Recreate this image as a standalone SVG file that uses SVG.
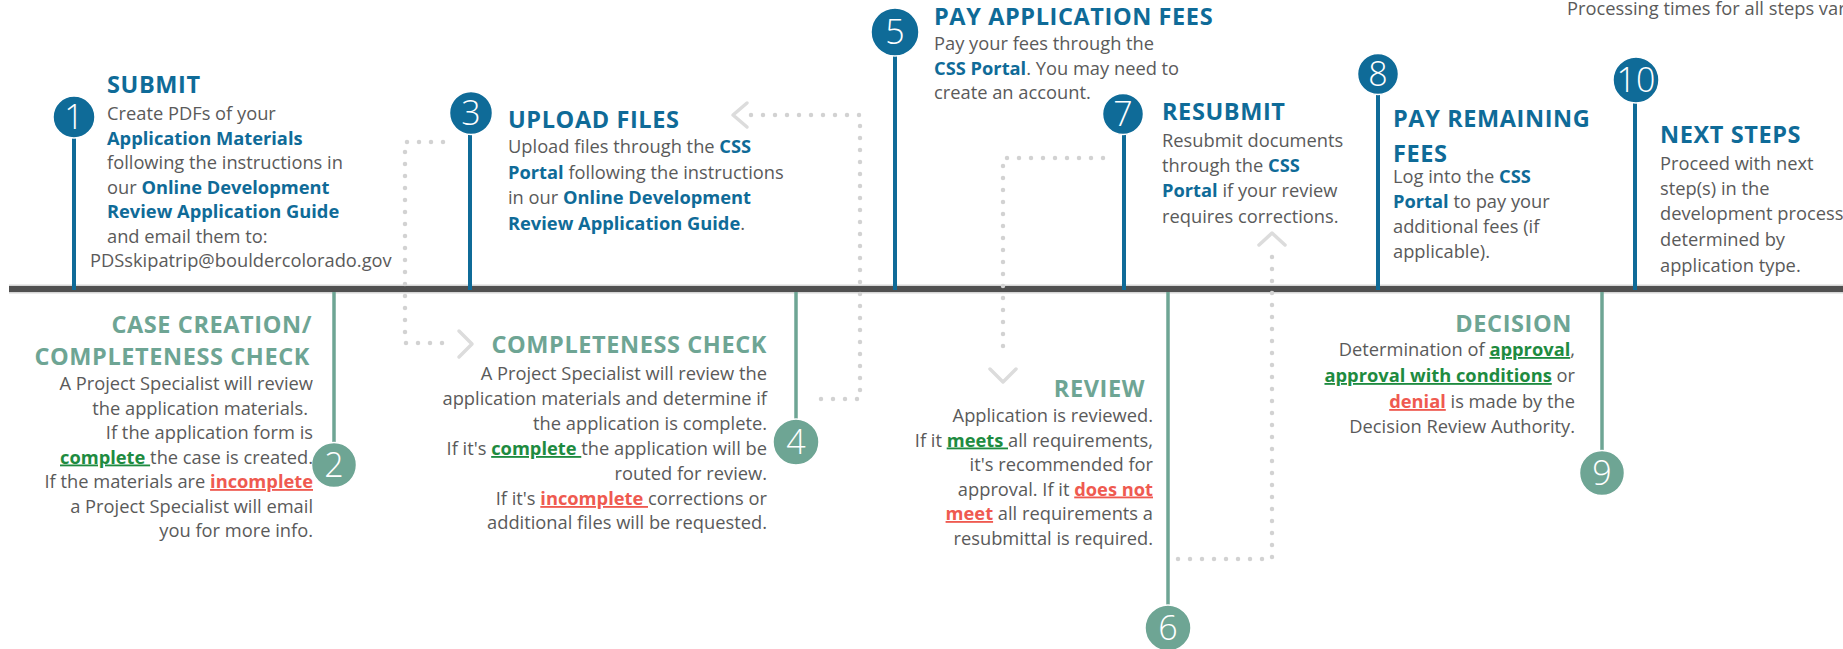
<svg xmlns="http://www.w3.org/2000/svg" width="1843" height="649" viewBox="0 0 1843 649">
<style>
text{font-family:"Open Sans","Noto Sans","Liberation Sans",sans-serif;}
.body{font-size:18.3px;fill:#5a5a5a;}
.r{text-anchor:end;}
.tb{font-size:23.5px;font-weight:700;fill:#0f6b98;letter-spacing:0.6px;}
.tg{font-size:23.5px;font-weight:700;fill:#6ea594;letter-spacing:0.6px;}
.b{font-weight:700;fill:#0f6b98;}
.g{font-weight:700;fill:#1e8b40;text-decoration:underline;}
.rd{font-weight:700;fill:#ef5a50;text-decoration:underline;}
.cb{fill:#0f6b98;stroke:#fff;stroke-width:1.5;}
.cg{fill:#6ea594;stroke:#fff;stroke-width:1.5;}
.sb{stroke:#0f6b98;stroke-width:4;}
.sg{stroke:#6ea594;stroke-width:3.5;}
.num{font-size:34px;font-weight:300;fill:#fff;text-anchor:middle;}
.dot{fill:none;stroke:#d2d2d2;stroke-width:4.5;stroke-linecap:round;stroke-dasharray:0 12;}
.chev{fill:none;stroke:#dcdcdc;stroke-width:3.5;stroke-linecap:round;stroke-linejoin:round;}
</style>
<rect width="1843" height="649" fill="#fff"/>
<rect x="9" y="284.5" width="1834" height="9" fill="#d6d6d6"/>
<rect x="9" y="286" width="1834" height="6" fill="#505050"/>
<text class="body" x="1567" y="15">Processing times for all steps vary</text>
<g id="connectors">
<path class="dot" d="M443,142 H405 V343 H450"/>
<polyline class="chev" points="459,331 472,344 459,357"/>
<path class="dot" d="M751,115 H860 V399 H819"/>
<polyline class="chev" points="747,103 733,115 747,127"/>
<path class="dot" d="M1103,158 H1003 V358"/>
<polyline class="chev" points="990,369 1003,382 1016,369"/>
<path class="dot" d="M1178,559 H1272 V247"/>
<polyline class="chev" points="1259,245 1272,233 1285,245"/>
</g>
<g id="step1">
<line class="sb" x1="74" y1="117" x2="74" y2="290"/>
<circle class="cb" cx="74" cy="117" r="21"/>
<text class="num" x="74" y="129">1</text>
<text class="tb" x="107" y="93">SUBMIT</text>
<text class="body" x="107" y="120">Create PDFs of your</text>
<text class="body" x="107" y="144.5"><tspan class="b">Application Materials</tspan></text>
<text class="body" x="107" y="169">following the instructions in</text>
<text class="body" x="107" y="193.5">our <tspan class="b">Online Development</tspan></text>
<text class="body" x="107" y="218"><tspan class="b">Review Application Guide</tspan></text>
<text class="body" x="107" y="242.5">and email them to:</text>
<text class="body" x="90" y="267">PDSskipatrip@bouldercolorado.gov</text>
</g>
<g id="step2">
<line class="sg" x1="334" y1="292" x2="334" y2="465"/>
<circle class="cg" cx="334" cy="465" r="22.5"/>
<text class="num" x="334" y="477">2</text>
<text class="tg r" x="312" y="333">CASE CREATION/</text>
<text class="tg r" x="310" y="365">COMPLETENESS CHECK</text>
<text class="body r" x="313" y="390">A Project Specialist will review</text>
<text class="body r" x="308" y="414.5">the application materials.</text>
<text class="body r" x="313" y="439">If the application form is</text>
<text class="body r" x="313" y="463.5"><tspan class="g">complete </tspan>the case is created.</text>
<text class="body r" x="313" y="488">If the materials are <tspan class="rd">incomplete</tspan></text>
<text class="body r" x="313" y="512.5">a Project Specialist will email</text>
<text class="body r" x="313" y="537">you for more info.</text>
</g>
<g id="step3">
<line class="sb" x1="470" y1="113" x2="470" y2="290"/>
<circle class="cb" cx="471" cy="113" r="21.5"/>
<text class="num" x="471" y="125">3</text>
<text class="tb" x="508" y="128">UPLOAD FILES</text>
<text class="body" x="508" y="153">Upload files through the <tspan class="b">CSS</tspan></text>
<text class="body" x="508" y="178.5"><tspan class="b">Portal</tspan> following the instructions</text>
<text class="body" x="508" y="204">in our <tspan class="b">Online Development</tspan></text>
<text class="body" x="508" y="229.5"><tspan class="b">Review Application Guide</tspan>.</text>
</g>
<g id="step4">
<line class="sg" x1="796" y1="292" x2="796" y2="442"/>
<circle class="cg" cx="796" cy="442" r="23"/>
<text class="num" x="796" y="454">4</text>
<text class="tg r" x="767" y="353">COMPLETENESS CHECK</text>
<text class="body r" x="767" y="380">A Project Specialist will review the</text>
<text class="body r" x="767" y="405">application materials and determine if</text>
<text class="body r" x="767" y="430">the application is complete.</text>
<text class="body r" x="767" y="455">If it's <tspan class="g">complete </tspan>the application will be</text>
<text class="body r" x="767" y="480">routed for review.</text>
<text class="body r" x="767" y="505">If it's <tspan class="rd">incomplete </tspan>corrections or</text>
<text class="body r" x="767" y="529">additional files will be requested.</text>
</g>
<g id="step5">
<line class="sb" x1="895" y1="32" x2="895" y2="290"/>
<circle class="cb" cx="895" cy="32" r="24"/>
<text class="num" x="895" y="44">5</text>
<text class="tb" x="934" y="25">PAY APPLICATION FEES</text>
<text class="body" x="934" y="50">Pay your fees through the</text>
<text class="body" x="934" y="75"><tspan class="b">CSS Portal</tspan>. You may need to</text>
<text class="body" x="934" y="99">create an account.</text>
</g>
<g id="step6">
<line class="sg" x1="1168" y1="292" x2="1168" y2="628"/>
<circle class="cg" cx="1168" cy="628" r="23"/>
<text class="num" x="1168" y="640">6</text>
<text class="tg r" x="1145" y="397">REVIEW</text>
<text class="body r" x="1153" y="422">Application is reviewed.</text>
<text class="body r" x="1153" y="446.5">If it <tspan class="g">meets </tspan>all requirements,</text>
<text class="body r" x="1153" y="471">it's recommended for</text>
<text class="body r" x="1153" y="495.5">approval. If it <tspan class="rd">does not</tspan></text>
<text class="body r" x="1153" y="520"><tspan class="rd">meet</tspan> all requirements a</text>
<text class="body r" x="1153" y="544.5">resubmittal is required.</text>
</g>
<g id="step7">
<line class="sb" x1="1124" y1="114" x2="1124" y2="290"/>
<circle class="cb" cx="1123" cy="114" r="20.5"/>
<text class="num" x="1123" y="126">7</text>
<text class="tb" x="1162" y="120">RESUBMIT</text>
<text class="body" x="1162" y="147">Resubmit documents</text>
<text class="body" x="1162" y="172">through the <tspan class="b">CSS</tspan></text>
<text class="body" x="1162" y="197"><tspan class="b">Portal</tspan> if your review</text>
<text class="body" x="1162" y="223">requires corrections.</text>
</g>
<g id="step8">
<line class="sb" x1="1378" y1="74" x2="1378" y2="290"/>
<circle class="cb" cx="1378" cy="74" r="20.5"/>
<text class="num" x="1378" y="86">8</text>
<text class="tb" x="1393" y="127">PAY REMAINING</text>
<text class="tb" x="1393" y="162">FEES</text>
<text class="body" x="1393" y="183">Log into the <tspan class="b">CSS</tspan></text>
<text class="body" x="1393" y="208"><tspan class="b">Portal</tspan> to pay your</text>
<text class="body" x="1393" y="233">additional fees (if</text>
<text class="body" x="1393" y="258">applicable).</text>
</g>
<g id="step9">
<line class="sg" x1="1602" y1="292" x2="1602" y2="473"/>
<circle class="cg" cx="1602" cy="473" r="22.5"/>
<text class="num" x="1602" y="485">9</text>
<text class="tg r" x="1572" y="332">DECISION</text>
<text class="body r" x="1575" y="356">Determination of <tspan class="g">approval</tspan>,</text>
<text class="body r" x="1575" y="382"><tspan class="g">approval with conditions</tspan> or</text>
<text class="body r" x="1575" y="408"><tspan class="rd">denial</tspan> is made by the</text>
<text class="body r" x="1575" y="433">Decision Review Authority.</text>
</g>
<g id="step10">
<line class="sb" x1="1635" y1="80" x2="1635" y2="290"/>
<circle class="cb" cx="1636" cy="80" r="23"/>
<text class="num" x="1636" y="92">10</text>
<text class="tb" x="1660" y="143">NEXT STEPS</text>
<text class="body" x="1660" y="170">Proceed with next</text>
<text class="body" x="1660" y="195">step(s) in the</text>
<text class="body" x="1660" y="220">development process</text>
<text class="body" x="1660" y="246">determined by</text>
<text class="body" x="1660" y="272">application type.</text>
</g>
</svg>
